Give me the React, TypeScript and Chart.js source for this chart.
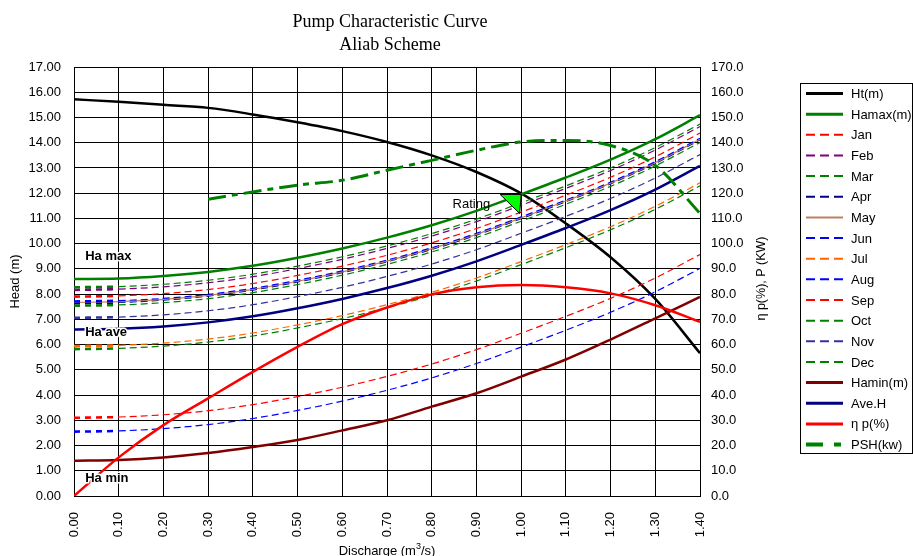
import React, { useEffect, useRef } from 'react';
import { Chart, registerables } from 'chart.js';

Chart.register(...registerables);

// ---------- data ----------
const discharge = [0, 0.1, 0.2, 0.3, 0.4, 0.5, 0.6, 0.7, 0.8, 0.9, 1.0, 1.1, 1.2, 1.3, 1.4];

const htHead = [15.72, 15.62, 15.5, 15.38, 15.12, 14.81, 14.46, 14.03, 13.5, 12.84, 11.99, 10.8, 9.46, 7.81, 5.66];
const hamax = [8.6, 8.62, 8.72, 8.88, 9.12, 9.44, 9.81, 10.24, 10.73, 11.3, 11.95, 12.62, 13.33, 14.14, 15.09];
const jan = [7.9, 7.93, 8.02, 8.18, 8.42, 8.74, 9.11, 9.54, 10.03, 10.6, 11.25, 11.92, 12.63, 13.44, 14.38];
const feb = [8.17, 8.2, 8.29, 8.45, 8.69, 9.01, 9.38, 9.81, 10.3, 10.87, 11.52, 12.19, 12.9, 13.71, 14.64];
const mar = [8.27, 8.3, 8.39, 8.55, 8.79, 9.11, 9.48, 9.91, 10.4, 10.97, 11.62, 12.29, 13.0, 13.81, 14.74];
const apr = [7.64, 7.67, 7.76, 7.92, 8.16, 8.48, 8.85, 9.28, 9.77, 10.34, 10.99, 11.66, 12.37, 13.18, 14.11];
const may = [7.67, 7.7, 7.79, 7.95, 8.19, 8.51, 8.88, 9.31, 9.8, 10.37, 11.02, 11.69, 12.4, 13.21, 14.14];
const jun = [7.71, 7.74, 7.83, 7.99, 8.23, 8.55, 8.92, 9.35, 9.84, 10.41, 11.06, 11.73, 12.44, 13.25, 14.18];
const jul = [5.94, 5.97, 6.06, 6.22, 6.46, 6.78, 7.15, 7.58, 8.07, 8.64, 9.29, 9.96, 10.67, 11.48, 12.41];
const aug = [2.55, 2.58, 2.67, 2.83, 3.07, 3.39, 3.76, 4.19, 4.68, 5.25, 5.9, 6.57, 7.28, 8.09, 9.02];
const sep = [3.1, 3.13, 3.22, 3.38, 3.62, 3.94, 4.31, 4.74, 5.23, 5.8, 6.45, 7.12, 7.83, 8.64, 9.57];
const oct = [5.82, 5.85, 5.94, 6.1, 6.34, 6.66, 7.03, 7.46, 7.95, 8.52, 9.17, 9.84, 10.55, 11.36, 12.29];
const nov = [7.06, 7.09, 7.18, 7.34, 7.58, 7.9, 8.27, 8.7, 9.19, 9.76, 10.41, 11.08, 11.79, 12.6, 13.53];
const dec = [7.54, 7.57, 7.66, 7.82, 8.06, 8.38, 8.75, 9.18, 9.67, 10.24, 10.89, 11.56, 12.27, 13.08, 14.01];
const hamin = [1.4, 1.43, 1.53, 1.7, 1.94, 2.22, 2.6, 3.0, 3.54, 4.07, 4.73, 5.41, 6.2, 7.04, 7.89];
const aveH = [6.6, 6.63, 6.72, 6.88, 7.12, 7.44, 7.81, 8.24, 8.73, 9.3, 9.95, 10.62, 11.33, 12.14, 13.08];
const etaP = [0, 15.3, 28.1, 38.7, 49.2, 59.1, 68.1, 74.7, 79.9, 82.7, 83.6, 82.7, 80.3, 75.6, 69.0];
const psh = [null, null, null, 117.6, 120.5, 123.2, 125.1, 129.1, 133.0, 137.0, 140.3, 140.9, 138.9, 131.0, 112.0];

const ratingQ = 1.0;
const ratingH = 11.95;

const headTicks = { min: 0, max: 17, step: 1 };
const powerTicks = { min: 0, max: 170, step: 10 };
const qTicks = { min: 0, max: 1.4, step: 0.1 };

const FONT = '"Liberation Sans", Arial, sans-serif';

type Series = {
  label: string;
  data: (number | null)[];
  color: string;
  width: number;
  dash: number[];
  axis: 'y' | 'y2';
  legendWidth: number;
  legendDash: number[];
  thickStart?: boolean;
};

const MD = [7, 4];
const LD = [9, 5];

const series: Series[] = [
  { label: 'Ht(m)', data: htHead, color: '#000000', width: 2.5, dash: [], axis: 'y', legendWidth: 3, legendDash: [] },
  { label: 'Hamax(m)', data: hamax, color: '#008000', width: 2.5, dash: [], axis: 'y', legendWidth: 3, legendDash: [] },
  { label: 'Jan', data: jan, color: '#FF0000', width: 1.2, dash: MD, axis: 'y', legendWidth: 2, legendDash: LD, thickStart: true },
  { label: 'Feb', data: feb, color: '#800080', width: 1.2, dash: MD, axis: 'y', legendWidth: 2, legendDash: LD, thickStart: true },
  { label: 'Mar', data: mar, color: '#008000', width: 1.2, dash: MD, axis: 'y', legendWidth: 2, legendDash: LD, thickStart: true },
  { label: 'Apr', data: apr, color: '#000080', width: 1.2, dash: MD, axis: 'y', legendWidth: 2, legendDash: LD, thickStart: true },
  { label: 'May', data: may, color: '#C08060', width: 1.2, dash: [], axis: 'y', legendWidth: 2, legendDash: [] },
  { label: 'Jun', data: jun, color: '#0000FF', width: 1.2, dash: MD, axis: 'y', legendWidth: 2, legendDash: LD, thickStart: true },
  { label: 'Jul', data: jul, color: '#FF6600', width: 1.2, dash: MD, axis: 'y', legendWidth: 2, legendDash: LD, thickStart: true },
  { label: 'Aug', data: aug, color: '#0000FF', width: 1.2, dash: MD, axis: 'y', legendWidth: 2, legendDash: LD, thickStart: true },
  { label: 'Sep', data: sep, color: '#FF0000', width: 1.2, dash: MD, axis: 'y', legendWidth: 2, legendDash: LD, thickStart: true },
  { label: 'Oct', data: oct, color: '#008000', width: 1.2, dash: MD, axis: 'y', legendWidth: 2, legendDash: LD, thickStart: true },
  { label: 'Nov', data: nov, color: '#333399', width: 1.2, dash: MD, axis: 'y', legendWidth: 2, legendDash: LD, thickStart: true },
  { label: 'Dec', data: dec, color: '#008000', width: 1.2, dash: MD, axis: 'y', legendWidth: 2, legendDash: LD, thickStart: true },
  { label: 'Hamin(m)', data: hamin, color: '#800000', width: 2.5, dash: [], axis: 'y', legendWidth: 3, legendDash: [] },
  { label: 'Ave.H', data: aveH, color: '#000080', width: 2.5, dash: [], axis: 'y', legendWidth: 3, legendDash: [] },
  { label: 'η p(%)', data: etaP, color: '#FF0000', width: 2.5, dash: [], axis: 'y2', legendWidth: 3, legendDash: [] },
  { label: 'PSH(kw)', data: psh, color: '#008000', width: 3, dash: [18, 6, 6, 6], axis: 'y2', legendWidth: 4, legendDash: [17, 11, 7, 20] },
];

const annotationPlugin = {
  id: 'annotations',
  afterDatasetsDraw(chart: any) {
    const { ctx, scales } = chart;
    const xs = scales.x;
    const ys = scales.y;
    ctx.save();
    // Ha labels
    ctx.font = `bold 13px ${FONT}`;
    ctx.textBaseline = 'middle';
    ctx.textAlign = 'left';
    const haLabels: [string, number][] = [
      ['Ha max', 9.49],
      ['Ha ave', 6.5],
      ['Ha min', 0.71],
    ];
    haLabels.forEach(([t, v]) => {
      const px = xs.getPixelForValue(0.025);
      const py = ys.getPixelForValue(v);
      ctx.lineWidth = 3;
      ctx.strokeStyle = '#ffffff';
      ctx.lineJoin = 'round';
      ctx.strokeText(t, px, py);
      ctx.fillStyle = '#000';
      ctx.fillText(t, px, py);
    });
    // Rating marker
    const rx = xs.getPixelForValue(ratingQ);
    const ry = ys.getPixelForValue(ratingH);
    ctx.beginPath();
    ctx.moveTo(rx - 21, ry);
    ctx.lineTo(rx, ry);
    ctx.lineTo(rx - 1.5, ry + 19);
    ctx.closePath();
    ctx.fillStyle = '#00FF00';
    ctx.fill();
    ctx.lineWidth = 1;
    ctx.strokeStyle = '#000';
    ctx.setLineDash([]);
    ctx.stroke();
    ctx.font = `13px ${FONT}`;
    ctx.textAlign = 'right';
    ctx.fillStyle = '#000';
    ctx.fillText('Rating', rx - 31, ry + 10);
    ctx.restore();
  },
  afterDraw(chart: any) {
    const { ctx, chartArea } = chart;
    ctx.save();
    const cx = (chartArea.left + chartArea.right) / 2;
    const cy = (chartArea.top + chartArea.bottom) / 2;
    // Title
    ctx.fillStyle = '#000';
    ctx.textAlign = 'center';
    ctx.textBaseline = 'alphabetic';
    ctx.font = '18px "Liberation Serif", "Times New Roman", serif';
    ctx.fillText('Pump Characteristic Curve', cx + 3, 27);
    ctx.fillText('Aliab Scheme', cx + 3, 50);
    // Left axis title
    ctx.font = `13px ${FONT}`;
    ctx.save();
    ctx.translate(15, cy);
    ctx.rotate(-Math.PI / 2);
    ctx.textBaseline = 'middle';
    ctx.fillText('Head (m)', 0, 0);
    ctx.restore();
    // Right axis title
    ctx.save();
    ctx.translate(762, cy - 3);
    ctx.rotate(-Math.PI / 2);
    ctx.textBaseline = 'middle';
    ctx.font = `12.5px ${FONT}`;
    ctx.fillText('η p(%), P (KW)', 0, 0);
    ctx.restore();
    // X axis title with superscript
    ctx.font = `13px ${FONT}`;
    const a = 'Discharge (m';
    const b = '3';
    const c = '/s)';
    ctx.textAlign = 'left';
    const wa = ctx.measureText(a).width;
    ctx.font = `9px ${FONT}`;
    const wb = ctx.measureText(b).width;
    ctx.font = `13px ${FONT}`;
    const wc = ctx.measureText(c).width;
    let sx = cx - (wa + wb + wc) / 2;
    const by = 555;
    ctx.fillText(a, sx, by);
    sx += wa;
    ctx.font = `9px ${FONT}`;
    ctx.fillText(b, sx, by - 6);
    sx += wb;
    ctx.font = `13px ${FONT}`;
    ctx.fillText(c, sx, by);

    // Legend
    const lx = 800.5;
    const ly = 83.5;
    ctx.strokeStyle = '#000';
    ctx.lineWidth = 1;
    ctx.setLineDash([]);
    ctx.strokeRect(lx, ly, 112, 370);
    ctx.font = `13px ${FONT}`;
    ctx.textBaseline = 'middle';
    ctx.textAlign = 'left';
    series.forEach((s, i) => {
      const y = 93.5 + i * 20.65;
      ctx.beginPath();
      ctx.strokeStyle = s.color;
      ctx.lineWidth = s.legendWidth;
      ctx.setLineDash(s.legendDash);
      ctx.moveTo(806, y);
      ctx.lineTo(843, y);
      ctx.stroke();
      ctx.setLineDash([]);
      ctx.fillStyle = '#000';
      ctx.fillText(s.label, 851, y + 1);
    });
    ctx.restore();
  },
};

export default function App() {
  const canvasRef = useRef<HTMLCanvasElement | null>(null);

  useEffect(() => {
    const canvas = canvasRef.current;
    if (!canvas) return;
    const n = series.length;
    const datasets = series.map((s, i) => {
      const pts = discharge
        .map((q, k) => ({ x: q, y: s.data[k] }))
        .filter((p) => p.y !== null && p.y !== undefined);
      const ds: any = {
        label: s.label,
        data: pts,
        yAxisID: s.axis,
        borderColor: s.color,
        backgroundColor: s.color,
        borderWidth: s.width,
        borderDash: s.dash,
        pointRadius: 0,
        pointHoverRadius: 0,
        fill: false,
        cubicInterpolationMode: 'monotone',
        order: n - i,
      };
      if (s.thickStart) {
        ds.segment = {
          borderWidth: (ctx: any) => (ctx.p0DataIndex === 0 ? 2.6 : s.width),
          borderDash: (ctx: any) => (ctx.p0DataIndex === 0 ? [6, 5] : s.dash),
        };
      }
      return ds;
    });

    const chart = new Chart(canvas, {
      type: 'line',
      data: { datasets },
      plugins: [annotationPlugin],
      options: {
        responsive: false,
        animation: false,
        devicePixelRatio: 1,
        layout: { padding: { top: 67, left: 0, right: 133, bottom: 0 } },
        plugins: {
          legend: { display: false },
          title: { display: false },
          tooltip: { enabled: false },
        },
        scales: {
          x: {
            type: 'linear',
            min: qTicks.min,
            max: qTicks.max,
            afterFit: (scale: any) => {
              scale.height = 60;
            },
            ticks: {
              stepSize: qTicks.step,
              minRotation: 90,
              maxRotation: 90,
              padding: 16,
              color: '#000',
              font: { family: FONT, size: 13 },
              callback: (v: any) => Number(v).toFixed(2),
            },
            grid: { color: '#000', lineWidth: 1, drawTicks: false },
            border: { display: true, color: '#000', width: 1 },
          },
          y: {
            type: 'linear',
            position: 'left',
            min: headTicks.min,
            max: headTicks.max,
            afterFit: (scale: any) => {
              scale.width = 74;
            },
            ticks: {
              stepSize: headTicks.step,
              padding: 13,
              color: '#000',
              font: { family: FONT, size: 13 },
              callback: (v: any) => Number(v).toFixed(2),
            },
            grid: { color: '#000', lineWidth: 1, drawTicks: false },
            border: { display: true, color: '#000', width: 1 },
          },
          y2: {
            type: 'linear',
            position: 'right',
            min: powerTicks.min,
            max: powerTicks.max,
            afterFit: (scale: any) => {
              scale.width = 80;
            },
            ticks: {
              stepSize: powerTicks.step,
              padding: 11,
              color: '#000',
              font: { family: FONT, size: 13 },
              callback: (v: any) => Number(v).toFixed(1),
            },
            grid: { display: false, drawTicks: false },
            border: { display: true, color: '#000', width: 1 },
          },
        },
      },
    });
    return () => {
      chart.destroy();
    };
  }, []);

  return (
    <div style={{ position: 'fixed', left: 0, top: 0, width: 913, height: 556, background: '#fff' }}>
      <canvas ref={canvasRef} width={913} height={556} style={{ display: 'block', width: 913, height: 556 }} />
    </div>
  );
}
